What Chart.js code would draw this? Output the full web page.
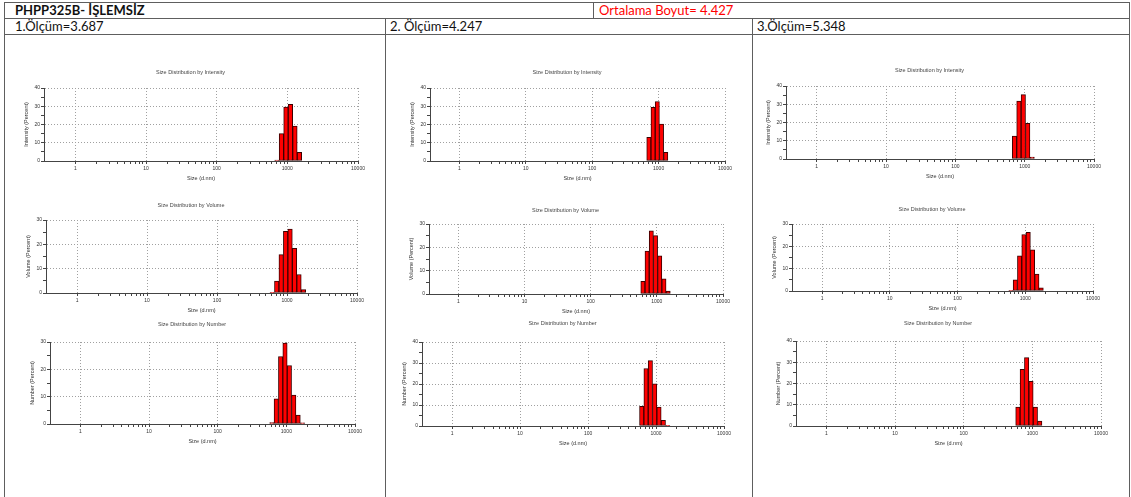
<!DOCTYPE html>
<html>
<head>
<meta charset="utf-8">
<script src="https://cdn.jsdelivr.net/npm/chart.js@4.4.0/dist/chart.umd.min.js"></script>
<style>
  body { margin: 0; background: #fff; width: 1131px; height: 497px; overflow: hidden; position: relative; font-family: Lato, "Open Sans", sans-serif; }
  .ln { position: absolute; background: #5e5e5e; }
  .tx { position: absolute; font-size: 13px; line-height: 15px; color: #111; white-space: nowrap; }
  canvas { position: absolute; }
</style>
</head>
<body>
<div class="ln" style="left:4px;top:2px;width:1126px;height:1px"></div>
<div class="ln" style="left:4px;top:18px;width:1126px;height:1px"></div>
<div class="ln" style="left:4px;top:34px;width:1126px;height:1px"></div>
<div class="ln" style="left:4px;top:2px;width:1px;height:495px"></div>
<div class="ln" style="left:1129px;top:2px;width:1px;height:495px"></div>
<div class="ln" style="left:593px;top:2px;width:1px;height:16px"></div>
<div class="ln" style="left:385px;top:18px;width:1px;height:479px"></div>
<div class="ln" style="left:752px;top:18px;width:1px;height:479px"></div>

<div class="tx" style="left:15px;top:3px;font-weight:bold">PHPP325B- İŞLEMSİZ</div>
<div class="tx" style="left:599px;top:3px;color:#ff0000">Ortalama Boyut= 4.427</div>
<div class="tx" style="left:15px;top:19px">1.Ölçüm=3.687</div>
<div class="tx" style="left:390px;top:19px">2. Ölçüm=4.247</div>
<div class="tx" style="left:757px;top:19px">3.Ölçüm=5.348</div>

<script>
// size bins (d.nm) that carry data
const binSizes = [615.1, 712.4, 825.0, 955.4, 1106, 1281, 1484, 1718];

// percent per bin, one array per measurement and distribution
const m1Intensity = [0, 0.5, 15.0, 29.6, 31.0, 19.2, 4.7, 0];
const m1Volume    = [0.3, 4.9, 15.8, 25.3, 26.3, 18.4, 7.6, 1.4];
const m1Number    = [0.5, 9.2, 24.7, 29.6, 21.4, 10.6, 3.3, 0.4];
const m2Intensity = [0, 13.0, 29.4, 32.6, 20.2, 4.8, 0, 0];
const m2Volume    = [5.4, 18.4, 27.1, 25.0, 16.4, 6.5, 1.2, 0];
const m2Number    = [9.4, 27.4, 31.1, 20.1, 9.0, 2.7, 0.3, 0];
const m3Intensity = [0, 12.5, 31.7, 35.3, 19.5, 1.0, 0, 0];
const m3Volume    = [0.2, 5.0, 15.8, 25.3, 26.3, 18.4, 7.6, 1.4];
const m3Number    = [8.9, 26.7, 32.2, 21.0, 8.9, 2.3, 0, 0];

const xMajorTicks = [1, 10, 100, 1000, 10000];
const xMin = 0.36;

const titles = { Intensity: 'Size Distribution by Intensity', Volume: 'Size Distribution by Volume', Number: 'Size Distribution by Number' };
const yTitles = { Intensity: 'Intensity (Percent)', Volume: 'Volume (Percent)', Number: 'Number (Percent)' };

// plot area boxes: L, T, R, B, title centre y, y max
const panels = [
  { kind: 'Intensity', data: m1Intensity, L: 44,  T: 88,  R: 358,  B: 161, tc: 72,  max: 40 },
  { kind: 'Volume',    data: m1Volume,    L: 46,  T: 220, R: 357,  B: 293, tc: 205, max: 30 },
  { kind: 'Number',    data: m1Number,    L: 50,  T: 342, R: 355,  B: 424, tc: 324, max: 30 },
  { kind: 'Intensity', data: m2Intensity, L: 430, T: 88,  R: 725,  B: 161, tc: 72,  max: 40 },
  { kind: 'Volume',    data: m2Volume,    L: 429, T: 224, R: 723,  B: 294, tc: 210, max: 30 },
  { kind: 'Number',    data: m2Number,    L: 422, T: 342, R: 724,  B: 426, tc: 323, max: 40 },
  { kind: 'Intensity', data: m3Intensity, L: 786, T: 86,  R: 1094, B: 159, tc: 70,  max: 40 },
  { kind: 'Volume',    data: m3Volume,    L: 792, T: 224, R: 1093, B: 291, tc: 209, max: 30 },
  { kind: 'Number',    data: m3Number,    L: 796, T: 341, R: 1101, B: 426, tc: 323, max: 40 }
];

const YW = 21, XH = 21, PADL = 11, PADR = 14;
const isMajor = v => xMajorTicks.includes(v);

function xTickList() {
  const out = [];
  for (let i = 0; i < xMajorTicks.length - 1; i++) {
    for (let k = 1; k < 10; k++) out.push(xMajorTicks[i] * k);
  }
  out.push(xMajorTicks[xMajorTicks.length - 1]);
  return out;
}

panels.forEach(p => {
  const cv = document.createElement('canvas');
  const left = p.L - YW - PADL;
  const top = p.tc - 4;
  const w = p.R + PADR - left;
  const h = p.B + XH - top;
  cv.width = w; cv.height = h;
  cv.style.left = left + 'px';
  cv.style.top = top + 'px';
  cv.style.width = w + 'px';
  cv.style.height = h + 'px';
  document.body.appendChild(cv);

  new Chart(cv.getContext('2d'), {
    type: 'bar',
    data: {
      datasets: [{
        data: binSizes.map((s, i) => ({ x: s, y: p.data[i] > 0 ? p.data[i] : null })),
        backgroundColor: '#ff0000',
        borderColor: '#3a0000',
        borderWidth: 1,
        borderSkipped: false,
        barThickness: 'flex',
        categoryPercentage: 1,
        barPercentage: 1
      }]
    },
    options: {
      responsive: false,
      animation: false,
      devicePixelRatio: 1,
      layout: { padding: { left: PADL, right: PADR, top: 0, bottom: 0 } },
      plugins: {
        legend: { display: false },
        tooltip: { enabled: false },
        title: {
          display: true,
          text: titles[p.kind],
          color: '#444',
          font: { family: 'Liberation Sans', size: 5.5, weight: 'normal', lineHeight: '8px' },
          padding: { top: 0, bottom: p.T - p.tc - 4 }
        }
      },
      scales: {
        x: {
          type: 'logarithmic',
          min: xMin,
          max: 10000,
          offset: false,
          afterBuildTicks: s => { s.ticks = xTickList().map(v => ({ value: v })); },
          afterFit: s => { s.height = XH; },
          ticks: {
            autoSkip: false,
            maxRotation: 0,
            padding: 2,
            color: '#333',
            font: { family: 'Liberation Sans', size: 5 },
            callback: v => isMajor(v) ? String(v) : ''
          },
          grid: {
            offset: false,
            color: c => (c.tick && isMajor(c.tick.value)) ? '#a0a0a0' : 'rgba(0,0,0,0)',
            tickColor: '#444',
            tickLength: 3,
            lineWidth: 1
          },
          border: { color: '#444', width: 1, dash: [1, 2] },
          title: {
            display: true,
            text: 'Size (d.nm)',
            color: '#333',
            padding: 0,
            font: { family: 'Liberation Sans', size: 5.5 }
          }
        },
        y: {
          min: 0,
          max: p.max,
          afterBuildTicks: s => {
            const t = [];
            for (let v = 0; v <= p.max; v += 5) t.push({ value: v });
            s.ticks = t;
          },
          afterFit: s => { s.width = YW; },
          ticks: {
            padding: 1,
            color: '#333',
            font: { family: 'Liberation Sans', size: 5 },
            callback: v => (v % 10 === 0) ? String(v) : ''
          },
          grid: {
            color: c => (c.tick && c.tick.value % 10 === 0 && c.tick.value > 0) ? '#a0a0a0' : 'rgba(0,0,0,0)',
            tickColor: '#444',
            tickLength: 3
          },
          border: { color: '#444', width: 1, dash: [1, 2] },
          title: {
            display: true,
            text: yTitles[p.kind],
            color: '#333',
            padding: 0,
            font: { family: 'Liberation Sans', size: 5.5 }
          }
        }
      }
    }
  });
});
</script>
</body>
</html>
